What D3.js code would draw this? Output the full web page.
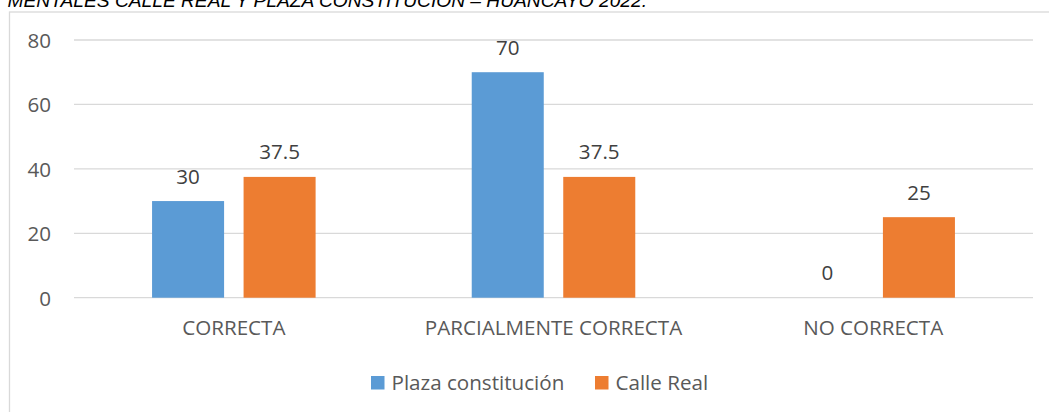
<!DOCTYPE html>
<html>
<head>
<meta charset="utf-8">
<script src="https://cdn.jsdelivr.net/npm/d3@7"></script>
<style>
  html, body { margin: 0; padding: 0; background: #fff; overflow: hidden; }
  svg { display: block; }
</style>
</head>
<body>
<svg id="chart" width="1049" height="412"></svg>
<script>
// Evaluation results by street
const categories = ["CORRECTA", "PARCIALMENTE CORRECTA", "NO CORRECTA"];
const seriesNames = ["Plaza constitución", "Calle Real"];
const plazaValues = [30, 70, 0];
const calleValues = [37.5, 37.5, 25];
const yTicks = [0, 20, 40, 60, 80];
const titleText = "MENTALES CALLE REAL Y PLAZA CONSTITUCIÓN – HUANCAYO 2022.";

const colors = { "Plaza constitución": "#5b9bd5", "Calle Real": "#ed7d31" };
const textColor = "#595959";
const gridColor = "#d9d9d9";
const font = "'Open Sans', sans-serif";
const fontSize = 20.6;

const svg = d3.select("#chart");

// Caption line above the chart frame (runs off the top edge of the page)
svg.append("text")
  .attr("x", 647).attr("y", 6.5)
  .attr("text-anchor", "end")
  .attr("font-family", "'Liberation Sans', Arial, sans-serif")
  .attr("font-style", "italic")
  .attr("font-size", 19.2)
  .attr("fill", "#000")
  .text(titleText);

// Chart frame
svg.append("rect")
  .attr("x", 9.5).attr("y", 12)
  .attr("width", 1060).attr("height", 420)
  .attr("fill", "#fff")
  .attr("stroke", gridColor)
  .attr("stroke-width", 1.3);

const x0 = d3.scaleBand().domain(categories).range([74, 1033]).padding(0);
const x1 = d3.scaleBand().domain(seriesNames)
  .range([0, x0.bandwidth()])
  .paddingInner(0.213)
  .paddingOuter(0.853);
const y = d3.scaleLinear().domain([0, 80]).range([297.7, 40]);

// Horizontal gridlines
svg.append("g").selectAll("line").data(yTicks).join("line")
  .attr("x1", 74).attr("x2", 1033)
  .attr("y1", d => y(d)).attr("y2", d => y(d))
  .attr("stroke", gridColor).attr("stroke-width", 1.3);

// Value axis labels
const yAxis = d3.axisLeft(y).tickValues(yTicks).tickSize(0).tickPadding(0);
const gy = svg.append("g").attr("transform", "translate(51,0)").call(yAxis);
gy.select(".domain").remove();
gy.selectAll("text")
  .attr("font-family", font).attr("font-size", fontSize)
  .attr("fill", textColor).attr("dy", "0.36em");

// Bars
const rows = categories.map((c, i) => ({
  category: c,
  values: [
    { name: seriesNames[0], value: plazaValues[i] },
    { name: seriesNames[1], value: calleValues[i] }
  ]
}));

const groups = svg.append("g").selectAll("g").data(rows).join("g")
  .attr("transform", d => `translate(${x0(d.category)},0)`);

groups.selectAll("rect").data(d => d.values).join("rect")
  .attr("x", d => x1(d.name))
  .attr("width", x1.bandwidth())
  .attr("y", d => y(d.value))
  .attr("height", d => y(0) - y(d.value))
  .attr("fill", d => colors[d.name]);

// Data labels
groups.selectAll("text").data(d => d.values).join("text")
  .attr("x", d => x1(d.name) + x1.bandwidth() / 2)
  .attr("y", d => y(d.value) - 17.5)
  .attr("text-anchor", "middle")
  .attr("font-family", font).attr("font-size", fontSize)
  .attr("fill", "#404040")
  .text(d => d.value);

// Category axis labels
const xAxis = d3.axisBottom(x0).tickSize(0).tickPadding(0);
const gx = svg.append("g").attr("transform", "translate(0,335)").call(xAxis);
gx.select(".domain").remove();
gx.selectAll("text")
  .attr("font-family", font).attr("font-size", fontSize)
  .attr("fill", textColor).attr("dy", 0);

// Legend
const legendItems = [
  { name: seriesNames[0], x: 371 },
  { name: seriesNames[1], x: 595 }
];
const legend = svg.append("g").selectAll("g").data(legendItems).join("g")
  .attr("transform", d => `translate(${d.x},0)`);
legend.append("rect")
  .attr("x", 0).attr("y", 376)
  .attr("width", 13.5).attr("height", 13.5)
  .attr("fill", d => colors[d.name]);
legend.append("text")
  .attr("x", 20.5).attr("y", 390)
  .attr("font-family", font).attr("font-size", fontSize)
  .attr("fill", textColor)
  .text(d => d.name);
</script>
</body>
</html>
